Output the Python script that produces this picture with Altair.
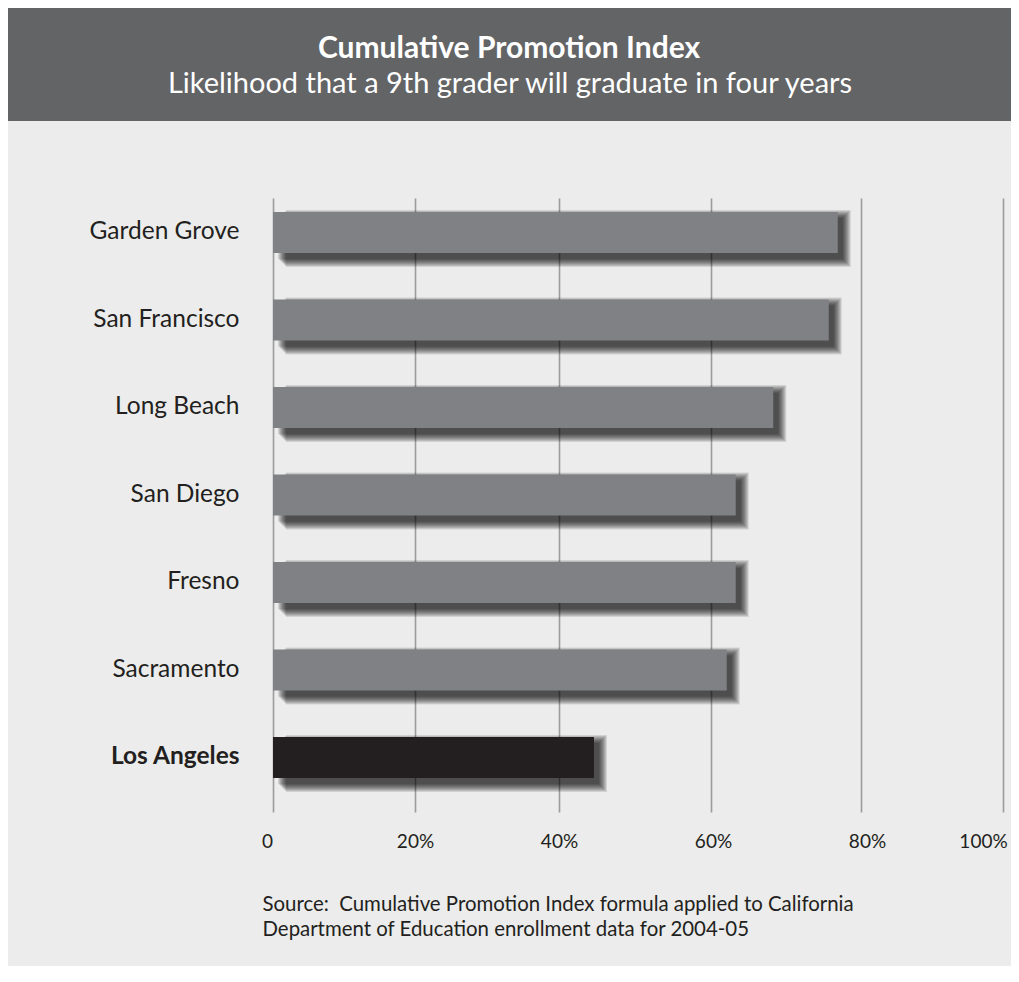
import altair as alt
import pandas as pd

# ---- data ----
CITIES = ["Garden Grove", "San Francisco", "Long Beach", "San Diego",
          "Fresno", "Sacramento", "Los Angeles"]
VALUES = [76.9, 75.7, 68.3, 63.3, 63.3, 62.1, 44.6]
GROUPS = ["other", "other", "other", "other", "other", "other", "LA"]
TICKS = [0, 20, 40, 60, 80, 100]

TITLE = "Cumulative Promotion Index"
SUBTITLE = "Likelihood that a 9th grader will graduate in four years"
SOURCE_LINES = [
    "Source:\u00a0 Cumulative Promotion Index formula applied to California",
    "Department of Education enrollment data for 2004-05",
]

FONT = "Lato"
TEXT = "#231f20"

df = pd.DataFrame({"city": CITIES, "value": VALUES, "group": GROUPS})

x_enc = alt.X(
    "value:Q",
    scale=alt.Scale(domain=TICKS, range=[0, 142, 286, 438, 588, 730], nice=False),
    axis=alt.Axis(
        values=TICKS, title=None, grid=True, gridColor="#9c9c9c", gridWidth=1.6,
        domain=False, ticks=False, labelFlush=False,
        labelExpr="datum.value == 0 ? '0' : datum.value + '%'",
        labelFont=FONT, labelFontSize=19, labelColor=TEXT, labelPadding=20,
        labelOffset={"expr": "datum.value == 0 ? -6 : datum.value == 80 ? 6 : datum.value == 100 ? -20 : datum.value == 60 ? 2 : 0"},
    ),
)
y_enc = alt.Y(
    "city:N", sort=CITIES,
    scale=alt.Scale(paddingInner=0.53, paddingOuter=0.2736, align=0.291),
    axis=alt.Axis(
        title=None, domain=False, ticks=False, grid=False, labelPadding=34,
        labelFont=FONT, labelFontSize=24.5, labelColor=TEXT, labelLimit=300,
        labelFontWeight={"expr": "datum.value == 'Los Angeles' ? 'bold' : 'normal'"},
    ),
)

base = alt.Chart(df).encode(x=x_enc, y=y_enc)

# soft drop shadow built from translucent, growing copies of the bars
shadows = [
    base.mark_bar(color="black", opacity=0.115, height=41 + 2 * k,
                  xOffset=5 + k, x2Offset=5 - k, yOffset=6)
    for k in range(0, 9)
]

bars = base.mark_bar(height=41).encode(
    color=alt.Color("group:N",
                    scale=alt.Scale(domain=["other", "LA"], range=["#808184", "#231f20"]),
                    legend=None)
)

band = alt.Chart(pd.DataFrame({"t": [TITLE]})).mark_rect(color="#636466").encode(
    x=alt.value(-265), x2=alt.value(746), y=alt.value(-190), y2=alt.value(-77)
)
title = alt.Chart(pd.DataFrame({"t": [TITLE]})).mark_text(
    font=FONT, fontWeight="bold", fontSize=30, color="white",
    align="center", baseline="alphabetic"
).encode(x=alt.value(236), y=alt.value(-140), text="t:N")
subtitle = alt.Chart(pd.DataFrame({"t": [SUBTITLE]})).mark_text(
    font=FONT, fontSize=29, color="white", align="center", baseline="alphabetic"
).encode(x=alt.value(237), y=alt.value(-105), text="t:N")
source = alt.Chart(pd.DataFrame({"t": ["\n".join(SOURCE_LINES)]})).mark_text(
    font=FONT, fontSize=20.4, color=TEXT, align="left", baseline="alphabetic",
    lineBreak="\n", lineHeight=24.6
).encode(x=alt.value(-10.5), y=alt.value(713), text="t:N")

chart = alt.layer(*shadows, bars, band, title, subtitle, source).properties(
    width=730, height=614,
    padding={"left": 265, "top": 190, "right": 8, "bottom": 154},
    autosize=alt.AutoSizeParams(type="none"),
    background="#ebeceb",
).configure_view(stroke=None)

chart.save("out.html", embed_options={"renderer": "svg", "actions": False})
